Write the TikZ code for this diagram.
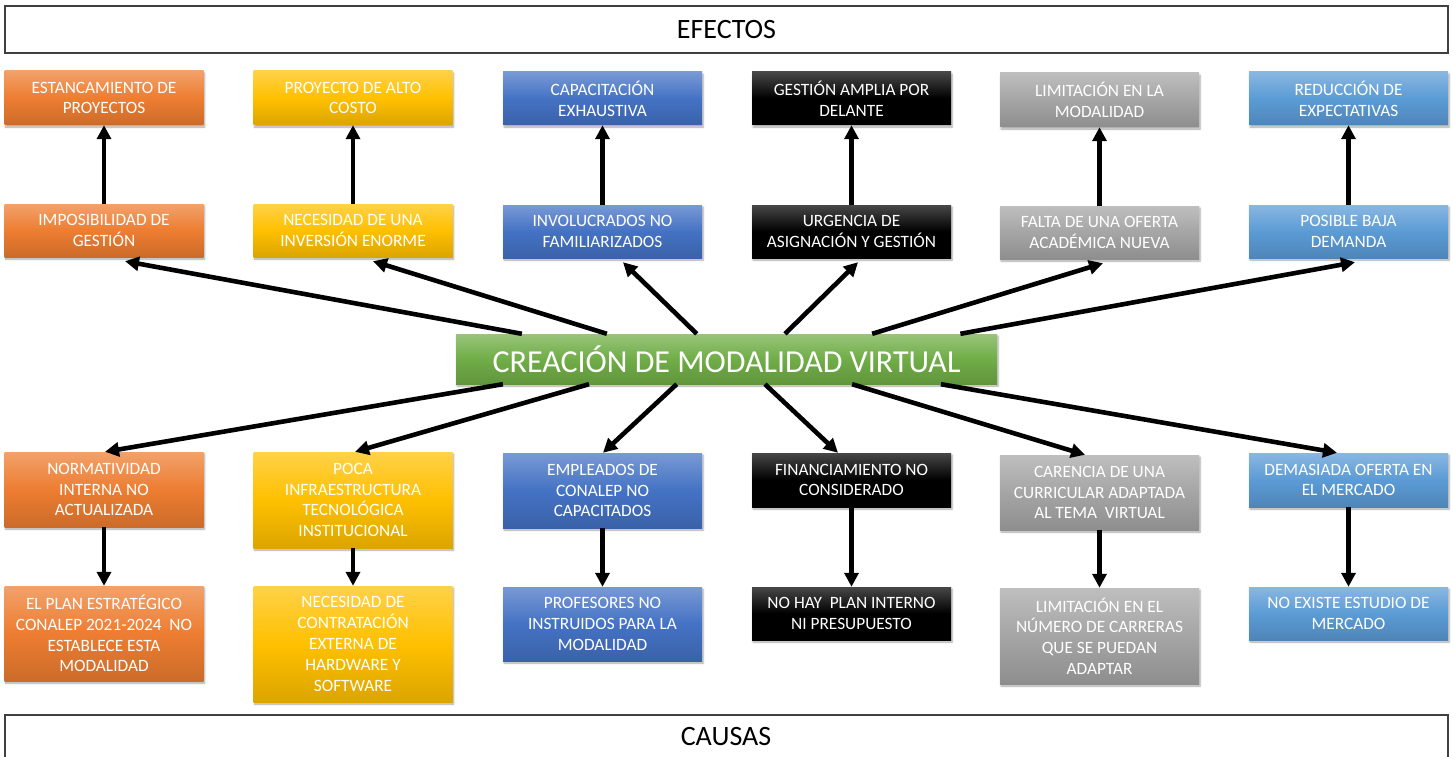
\documentclass[tikz,border=0pt]{standalone}
\usepackage{fontspec}
\setmainfont{Carlito}
\usetikzlibrary{arrows.meta,calc,shadows.blur}
\definecolor{corange}{HTML}{ED7D31}
\definecolor{cyellow}{HTML}{FFC000}
\definecolor{cblue}{HTML}{4472C4}
\definecolor{cgray}{HTML}{A5A5A5}
\definecolor{clblue}{HTML}{5B9BD5}
\definecolor{cgreen}{HTML}{70AD47}
\tikzset{
  box/.style={rectangle, minimum width=199pt, inner sep=2pt, align=center,
    text=white, font=\fontsize{17.3}{20.8}\selectfont,
    blur shadow={shadow xshift=1pt, shadow yshift=-2pt, shadow blur steps=6, shadow opacity=35}},
  grad/.style={top color=#1!72!white, bottom color=#1!86!black, middle color=#1},
  gorange/.style={box, grad=corange},
  gyellow/.style={box, grad=cyellow},
  gblue/.style={box, grad=cblue},
  gdark/.style={box, top color=black!72!white, bottom color=black, middle color=black},
  ggray/.style={box, grad=cgray},
  glblue/.style={box, grad=clblue},
  arr/.style={line width=4.6pt, -{Triangle[length=14pt,width=14pt]}},
  titlebox/.style={draw=black!75, line width=1.3pt},
  titletext/.style={font=\fontsize{28}{34}\selectfont, text=black}
}
\begin{document}
\begin{tikzpicture}[x=1pt,y=-1pt]
\useasboundingbox (0,0) rectangle (1453,757);

% titles
\node[titlebox, titletext, minimum width=1443pt, minimum height=47pt] (ef) at (726.5,29.5) {EFECTOS};
\node[titletext] (ca) at (726,737) {CAUSAS};
\draw[titlebox] (5,762) -- (5,715) -- (1448,715) -- (1448,762);

% central node
\node[box, grad=cgreen, minimum width=541pt, minimum height=50pt, font=\fontsize{32}{38}\selectfont] (m) at (726.5,359) {CREACIÓN DE MODALIDAD VIRTUAL};

% top row (effects)
\node[gorange, minimum height=54pt] (e1) at (104,98) {ESTANCAMIENTO DE\\PROYECTOS};
\node[gyellow, minimum height=54pt] (e2) at (353,98) {PROYECTO DE ALTO\\COSTO};
\node[gblue,   minimum height=53pt] (e3) at (602.5,98.5) {CAPACITACIÓN\\EXHAUSTIVA};
\node[gdark,   minimum height=53pt] (e4) at (851.5,98.5) {GESTIÓN AMPLIA POR\\DELANTE};
\node[ggray,   minimum height=54pt] (e5) at (1099.5,100) {LIMITACIÓN EN LA\\MODALIDAD};
\node[glblue,  minimum height=53pt] (e6) at (1348.5,98.5) {REDUCCIÓN DE\\EXPECTATIVAS};

% second row
\node[gorange, minimum height=53pt] (f1) at (104,230.5) {IMPOSIBILIDAD DE\\GESTIÓN};
\node[gyellow, minimum height=53pt] (f2) at (353,230.5) {NECESIDAD DE UNA\\INVERSIÓN ENORME};
\node[gblue,   minimum height=53pt] (f3) at (602.5,231.5) {INVOLUCRADOS NO\\FAMILIARIZADOS};
\node[gdark,   minimum height=53pt] (f4) at (851.5,231.5) {URGENCIA DE\\ASIGNACIÓN Y GESTIÓN};
\node[ggray,   minimum height=53pt] (f5) at (1099.5,232.5) {FALTA DE UNA OFERTA\\ACADÉMICA NUEVA};
\node[glblue,  minimum height=53pt] (f6) at (1348.5,231.5) {POSIBLE BAJA\\DEMANDA};

% third row (causes)
\node[gorange, minimum height=75pt] (c1) at (104,489.5) {NORMATIVIDAD\\INTERNA NO\\ACTUALIZADA};
\node[gyellow, minimum height=96pt] (c2) at (353,500) {POCA\\INFRAESTRUCTURA\\TECNOLÓGICA\\INSTITUCIONAL};
\node[gblue,   minimum height=75pt] (c3) at (602.5,490.5) {EMPLEADOS DE\\CONALEP NO\\CAPACITADOS};
\node[gdark,   minimum height=54pt] (c4) at (851.5,480) {FINANCIAMIENTO NO\\CONSIDERADO};
\node[ggray,   minimum height=75pt] (c5) at (1099.5,492.5) {CARENCIA DE UNA\\CURRICULAR ADAPTADA\\AL TEMA~ VIRTUAL};
\node[glblue,  minimum height=54pt] (c6) at (1348.5,480) {DEMASIADA OFERTA EN\\EL MERCADO};

% fourth row
\node[gorange, minimum height=95pt] (d1) at (104,633.5) {EL PLAN ESTRATÉGICO\\CONALEP 2021-2024~ NO\\ESTABLECE ESTA\\MODALIDAD};
\node[gyellow, minimum height=116pt] (d2) at (353,644) {NECESIDAD DE\\CONTRATACIÓN\\EXTERNA DE\\HARDWARE Y\\SOFTWARE};
\node[gblue,   minimum height=74pt] (d3) at (602.5,624) {PROFESORES NO\\INSTRUIDOS PARA LA\\MODALIDAD};
\node[gdark,   minimum height=53pt] (d4) at (851.5,613.5) {NO HAY~ PLAN INTERNO\\NI PRESUPUESTO};
\node[ggray,   minimum height=96pt] (d5) at (1099.5,636) {LIMITACIÓN EN EL\\NÚMERO DE CARRERAS\\QUE SE PUEDAN\\ADAPTAR};
\node[glblue,  minimum height=53pt] (d6) at (1348.5,613.5) {NO EXISTE ESTUDIO DE\\MERCADO};

% vertical arrows
\foreach \i in {1,...,6} {
  \draw[arr] (f\i.north) -- (e\i.south);
  \draw[arr] (c\i.south) -- (d\i.north);
}

% central coordinates on the border
\coordinate (t1) at ($(m.north west)!0.122!(m.north east)$);
\coordinate (t2) at ($(m.north west)!0.279!(m.north east)$);
\coordinate (t3) at ($(m.north west)!0.445!(m.north east)$);
\coordinate (t4) at ($(m.north west)!0.608!(m.north east)$);
\coordinate (t5) at ($(m.north west)!0.769!(m.north east)$);
\coordinate (t6) at ($(m.north west)!0.932!(m.north east)$);
\coordinate (b1) at ($(m.south west)!0.087!(m.south east)$);
\coordinate (b2) at ($(m.south west)!0.246!(m.south east)$);
\coordinate (b3) at ($(m.south west)!0.408!(m.south east)$);
\coordinate (b4) at ($(m.south west)!0.571!(m.south east)$);
\coordinate (b5) at ($(m.south west)!0.732!(m.south east)$);
\coordinate (b6) at ($(m.south west)!0.896!(m.south east)$);

% diagonal arrows to effects
\draw[arr] (t1) -- ([xshift=21pt,yshift=-4pt]f1.south);
\draw[arr] (t2) -- ([xshift=20pt,yshift=-4pt]f2.south);
\draw[arr] (t3) -- ([xshift=20.5pt,yshift=-4pt]f3.south);
\draw[arr] (t4) -- ([xshift=6.5pt,yshift=-4pt]f4.south);
\draw[arr] (t5) -- ([xshift=3.5pt,yshift=-4pt]f5.south);
\draw[arr] (t6) -- ([xshift=6.5pt,yshift=-4pt]f6.south);

% diagonal arrows to causes
\draw[arr] (b1) -- ([xshift=1pt]c1.north);
\draw[arr] (b2) -- ([xshift=2pt]c2.north);
\draw[arr] (b3) -- ([xshift=0.5pt]c3.north);
\draw[arr] (b4) -- ([xshift=-13.5pt]c4.north);
\draw[arr] (b5) -- ([xshift=-14.5pt]c5.north);
\draw[arr] (b6) -- ([xshift=-11.5pt]c6.north);
\end{tikzpicture}
\end{document}
